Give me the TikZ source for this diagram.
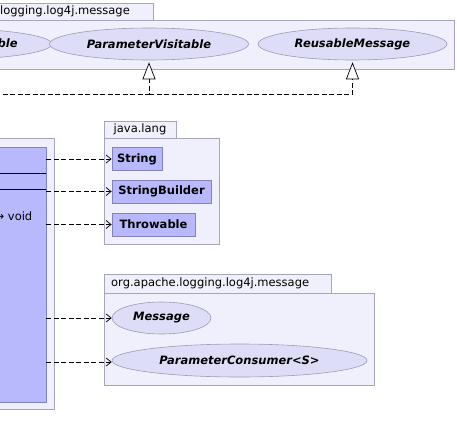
\documentclass[tikz,border=0pt]{standalone}
\usepackage{fontspec}
\setmainfont{DejaVu Sans}
\usetikzlibrary{shapes.geometric,arrows.meta}
\definecolor{pkgfill}{RGB}{240,240,252}
\definecolor{pkgdraw}{RGB}{165,165,190}
\definecolor{clsfill}{RGB}{184,184,252}
\definecolor{clsdraw}{RGB}{130,130,190}
\definecolor{ellfill}{RGB}{221,221,248}
\definecolor{elldraw}{RGB}{155,155,185}
\begin{document}
\begin{tikzpicture}[x=1pt,y=-1pt,
  pkg/.style={draw=pkgdraw,fill=pkgfill,line width=0.8pt},
  tabtext/.style={inner sep=0pt,font=\fontsize{11.5}{13}\selectfont},
  cls/.style={rectangle,draw=clsdraw,fill=clsfill,line width=0.8pt,inner sep=0pt,font=\fontsize{11.5}{13}\selectfont\bfseries},
  iface/.style={ellipse,draw=elldraw,fill=ellfill,line width=0.6pt,inner sep=0pt,font=\fontsize{11.5}{13}\selectfont\bfseries\itshape},
  dep/.style={line width=0.7pt,dash pattern=on 5pt off 2.5pt,-{Straight Barb[length=5pt,width=8pt,line width=0.7pt]}},
  real/.style={line width=0.7pt,dash pattern=on 5pt off 2.5pt,-{Triangle[length=17pt,width=13pt,fill=white,line width=0.7pt]}}
]
\useasboundingbox (0,0) rectangle (457,447);
\clip (0,0) rectangle (457,447);

% top package org.apache.logging.log4j.message
\draw[pkg] (-74,3) rectangle (153,20);
\draw[pkg] (-74,20) rectangle (454,69);
\node[tabtext,anchor=east] (toptab) at (130,11.5) {org.apache.logging.log4j.message};
\node[iface,minimum width=210pt,minimum height=32pt] (sbf) at (-65,44) {StringBuilderFormattable};
\node[iface,minimum width=199pt,minimum height=32pt] (pv) at (149,44) {ParameterVisitable};
\node[iface,minimum width=189pt,minimum height=32pt] (rm) at (352.5,44) {ReusableMessage};

% left package and class
\node[pkg,rectangle,inner sep=0pt,minimum width=74pt,minimum height=271pt] (lpkg) at (17,273.5) {};
\node[cls,minimum width=66pt,minimum height=254.5pt] (cls) at (13,274.75) {};
\draw[black,line width=0.8pt] (-20,173) -- (46,173);
\draw[black,line width=0.8pt] (-20,189) -- (46,189);
\node[tabtext,anchor=east] (meth) at (32.5,216) {$\cdots$ → void};

% java.lang
\draw[pkg] (104,121) rectangle (176,138);
\node[tabtext] (jltab) at (140,129.5) {java.lang};
\node[pkg,rectangle,inner sep=0pt,minimum width=115pt,minimum height=106pt] (jl) at (161.5,191) {};
\node[cls,minimum width=50pt,minimum height=22.5pt] (str) at (137,159) {String};
\node[cls,minimum width=99pt,minimum height=23pt] (sb) at (161.5,191.5) {StringBuilder};
\node[cls,minimum width=83pt,minimum height=23pt] (thr) at (153.5,224.5) {Throwable};

% bottom package
\draw[pkg] (104,274) rectangle (331,293);
\node[tabtext,anchor=west] (bottab) at (111,283.5) {org.apache.logging.log4j.message};
\node[pkg,rectangle,inner sep=0pt,minimum width=270pt,minimum height=92pt] (bpkg) at (239,339) {};
\node[iface,minimum width=99pt,minimum height=32pt] (msg) at (161.5,318) {Message};
\node[iface,minimum width=255pt,minimum height=33pt] (pc) at (239.5,360.5) {ParameterConsumer<S>};

% dependencies
\draw[dep] (cls.east |- str.west) -- (str.west);
\draw[dep] (cls.east |- sb.west) -- (sb.west);
\draw[dep] (cls.east |- thr.west) -- (thr.west);
\draw[dep] (cls.east |- msg.west) -- (msg.west);
\draw[dep] ([yshift=-1.5pt]cls.east |- pc.west) -- ([yshift=-1.5pt]pc.west);

% realizations
\coordinate (impl) at (-20,94);
\coordinate (j) at (149,94);
\draw[real] (impl) -- (j) -- ([yshift=-2pt]pv.south);
\draw[real] (j) -| ([yshift=-2pt]rm.south);
\end{tikzpicture}
\end{document}
